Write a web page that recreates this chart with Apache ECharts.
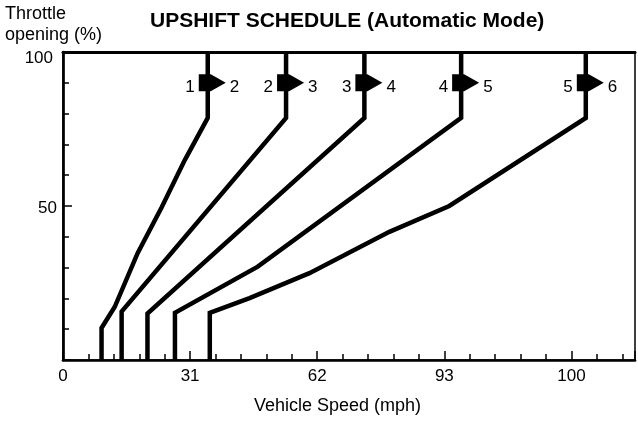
<!DOCTYPE html>
<html>
<head>
<meta charset="utf-8">
<script src="https://cdn.jsdelivr.net/npm/echarts@6/dist/echarts.min.js"></script>
<style>
  html, body { margin: 0; padding: 0; background: #fff; }
  #chart { width: 638px; height: 423px; }
</style>
</head>
<body>
<div id="chart"></div>
<script>
// shift lines: throttle (%) vs speed (axis units, 31 per major tick)
var throttle12 = [0, 10.4, 17.2, 34.7, 49.7, 64.9, 78.6, 100];
var speed12    = [9.4, 9.4, 12.6, 18.2, 24.1, 29.7, 35.3, 35.3];
var throttle23 = [0, 15.7, 78.6, 100];
var speed23    = [14.3, 14.3, 54.4, 54.4];
var throttle34 = [0, 15.1, 78.6, 100];
var speed34    = [20.6, 20.6, 73.5, 73.5];
var throttle45 = [0, 15.3, 30.3, 78.6, 100];
var speed45    = [27.3, 27.3, 47.5, 97.1, 97.1];
var throttle56 = [0, 15.3, 20.1, 28.2, 41.6, 50.0, 78.6, 100];
var speed56    = [35.8, 35.8, 45.5, 60.1, 79.6, 94.2, 127.5, 127.5];

// arrows at top of each shift line
var arrowSpeed = [35.3, 54.4, 73.5, 97.1, 127.5];
var arrowThrottle = [90, 90, 90, 90, 90];
var fromGear = ['1', '2', '3', '4', '5'];
var toGear   = ['2', '3', '4', '5', '6'];

// x tick labels (every 31 units)
var xTickValues = [0, 31, 62, 93, 124];
var xTickLabels = ['0', '31', '62', '93', '100'];

var FONT = 'Liberation Sans, Arial, Helvetica, sans-serif';

function pairs(xs, ys) {
    var out = [];
    for (var i = 0; i < xs.length; i++) out.push([xs[i], ys[i]]);
    return out;
}

var chart = echarts.init(document.getElementById('chart'));

var lineStyle = { color: '#000', width: 4.5, join: 'miter' };
function shiftLine(name, xs, ys) {
    return {
        name: name,
        type: 'line',
        data: pairs(xs, ys),
        symbol: 'none',
        lineStyle: lineStyle,
        z: 3
    };
}

var arrowPts = [];
for (var i = 0; i < arrowSpeed.length; i++) {
    arrowPts.push({ value: [arrowSpeed[i], arrowThrottle[i]], from: fromGear[i], to: toGear[i] });
}

var option = {
    animation: false,
    textStyle: { fontFamily: FONT, color: '#000' },
    title: [{
        text: 'UPSHIFT SCHEDULE (Automatic Mode)',
        left: 150,
        top: 11,
        padding: 0,
        textStyle: { fontFamily: FONT, fontSize: 21, fontWeight: 'bold', color: '#000' }
    }, {
        text: 'Throttle\nopening (%)',
        left: 5,
        top: 4,
        padding: 0,
        textStyle: { fontFamily: FONT, fontSize: 18, fontWeight: 'normal', color: '#000', lineHeight: 21 }
    }],
    grid: {
        left: 63, right: 1.5, top: 52, bottom: 63,
        show: true, borderColor: '#000', borderWidth: 1.5
    },
    xAxis: [{
        type: 'value', min: 0, max: 139.5, interval: 31, position: 'bottom',
        name: 'Vehicle Speed (mph)', nameLocation: 'middle', nameGap: 37,
        nameTextStyle: { fontFamily: FONT, fontSize: 18, color: '#000', padding: [0, 23, 0, 0] },
        axisLine: { lineStyle: { color: '#000', width: 2.7 } },
        axisTick: { inside: true, length: 9, lineStyle: { color: '#000', width: 1.5 } },
        axisLabel: {
            margin: 8, fontFamily: FONT, fontSize: 17, color: '#000',
            showMinLabel: true, showMaxLabel: true,
            formatter: function (v) {
                for (var k = 0; k < xTickValues.length; k++) {
                    if (Math.abs(v - xTickValues[k]) < 0.01) return xTickLabels[k];
                }
                return '';
            }
        },
        splitLine: { show: false }
    }, {
        type: 'value', min: 0, max: 139.5, interval: 6.2, position: 'bottom',
        axisLine: { show: false },
        axisTick: { inside: true, length: 6, lineStyle: { color: '#000', width: 1.5 } },
        axisLabel: { show: false },
        splitLine: { show: false }
    }, {
        type: 'value', min: 0, max: 139.5, position: 'top',
        axisLine: { lineStyle: { color: '#000', width: 3 } },
        axisTick: { show: false },
        axisLabel: { show: false },
        splitLine: { show: false }
    }],
    yAxis: [{
        type: 'value', min: 0, max: 100, interval: 50, position: 'left',
        axisLine: { show: true, lineStyle: { color: '#000', width: 2.7 } },
        axisTick: { show: true, inside: true, length: 9, lineStyle: { color: '#000', width: 1.5 } },
        axisLabel: {
            margin: 6, fontFamily: FONT, fontSize: 17, color: '#000',
            formatter: function (v) {
                if (v === 100) return '{top|100}';
                if (v === 50) return '{mid|50}';
                return '';
            },
            rich: {
                top: { fontFamily: FONT, fontSize: 17, color: '#000', padding: [12, 4, 0, 0] },
                mid: { fontFamily: FONT, fontSize: 17, color: '#000', padding: [5, 0, 0, 0] }
            }
        },
        splitLine: { show: false }
    }, {
        type: 'value', min: 0, max: 100, interval: 10, position: 'left',
        axisLine: { show: false },
        axisTick: { show: true, inside: true, length: 6, lineStyle: { color: '#000', width: 1.5 } },
        axisLabel: { show: false },
        splitLine: { show: false }
    }],
    series: [
        shiftLine('1-2', speed12, throttle12),
        shiftLine('2-3', speed23, throttle23),
        shiftLine('3-4', speed34, throttle34),
        shiftLine('4-5', speed45, throttle45),
        shiftLine('5-6', speed56, throttle56),
        {
            name: 'arrows',
            type: 'scatter',
            data: arrowPts,
            symbol: 'path://M0,0L12,0L27,8.5L12,17L0,17Z',
            symbolSize: [27, 17],
            symbolOffset: [4.5, 0],
            itemStyle: { color: '#000', opacity: 1 },
            z: 5,
            label: {
                show: true, position: 'left', distance: 4, offset: [0, 5],
                fontFamily: FONT, fontSize: 17, color: '#000',
                formatter: function (p) { return p.data.from; }
            }
        },
        {
            name: 'arrowsTo',
            type: 'scatter',
            data: arrowPts,
            symbol: 'rect',
            symbolSize: [27, 17],
            symbolOffset: [4.5, 0],
            itemStyle: { color: 'rgba(0,0,0,0)', opacity: 1 },
            z: 4,
            label: {
                show: true, position: 'right', distance: 4, offset: [0, 5],
                fontFamily: FONT, fontSize: 17, color: '#000',
                formatter: function (p) { return p.data.to; }
            }
        }
    ]
};

chart.setOption(option);
</script>
</body>
</html>
